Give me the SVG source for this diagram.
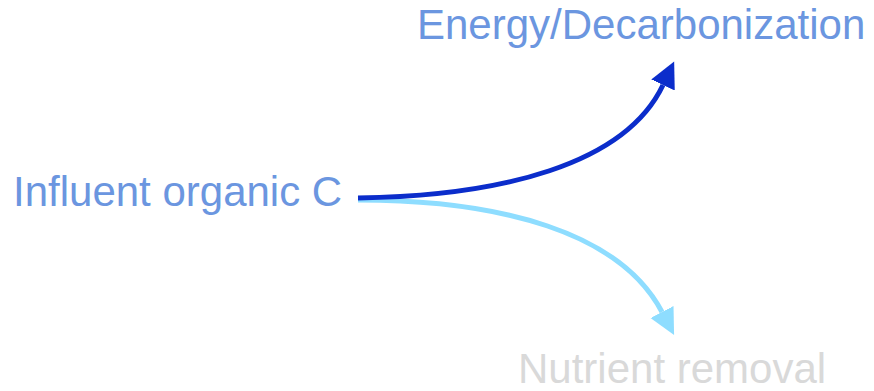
<svg xmlns="http://www.w3.org/2000/svg" width="874" height="391" viewBox="0 0 874 391">
<style>
.lbl{font-family:"Liberation Sans",Arial,sans-serif;font-size:42px}
.blue{fill:#6B96E0}
.gray{fill:#D9D9D9}
.conn{fill:none;stroke-width:5}
</style>
<defs>
<marker id="ahDark" markerUnits="userSpaceOnUse" markerWidth="30" markerHeight="30" refX="0" refY="13" orient="auto" viewBox="0 0 30 26">
<path d="M0,0 L26,13 L0,26 Z" fill="#0B2DCB"/>
</marker>
<marker id="ahLight" markerUnits="userSpaceOnUse" markerWidth="30" markerHeight="30" refX="0" refY="13" orient="auto" viewBox="0 0 30 26">
<path d="M0,0 L26,13 L0,26 Z" fill="#8EDDFF"/>
</marker>
</defs>
<rect width="874" height="391" fill="#FFFFFF"/>
<g id="connectors">
<path class="conn" d="M358,200 C500,200 620,232 662,312" stroke="#8EDDFF" marker-end="url(#ahLight)"/>
<path class="conn" d="M358,198 C500,196 625,165 663,85" stroke="#0B2DCB" marker-end="url(#ahDark)"/>
</g>
<g id="influent"><text class="lbl blue" x="13" y="206">Influent organic C</text></g>
<g id="energy"><text class="lbl blue" x="417" y="39">Energy/Decarbonization</text></g>
<g id="nutrient"><text class="lbl gray" x="518" y="383">Nutrient removal</text></g>
</svg>
